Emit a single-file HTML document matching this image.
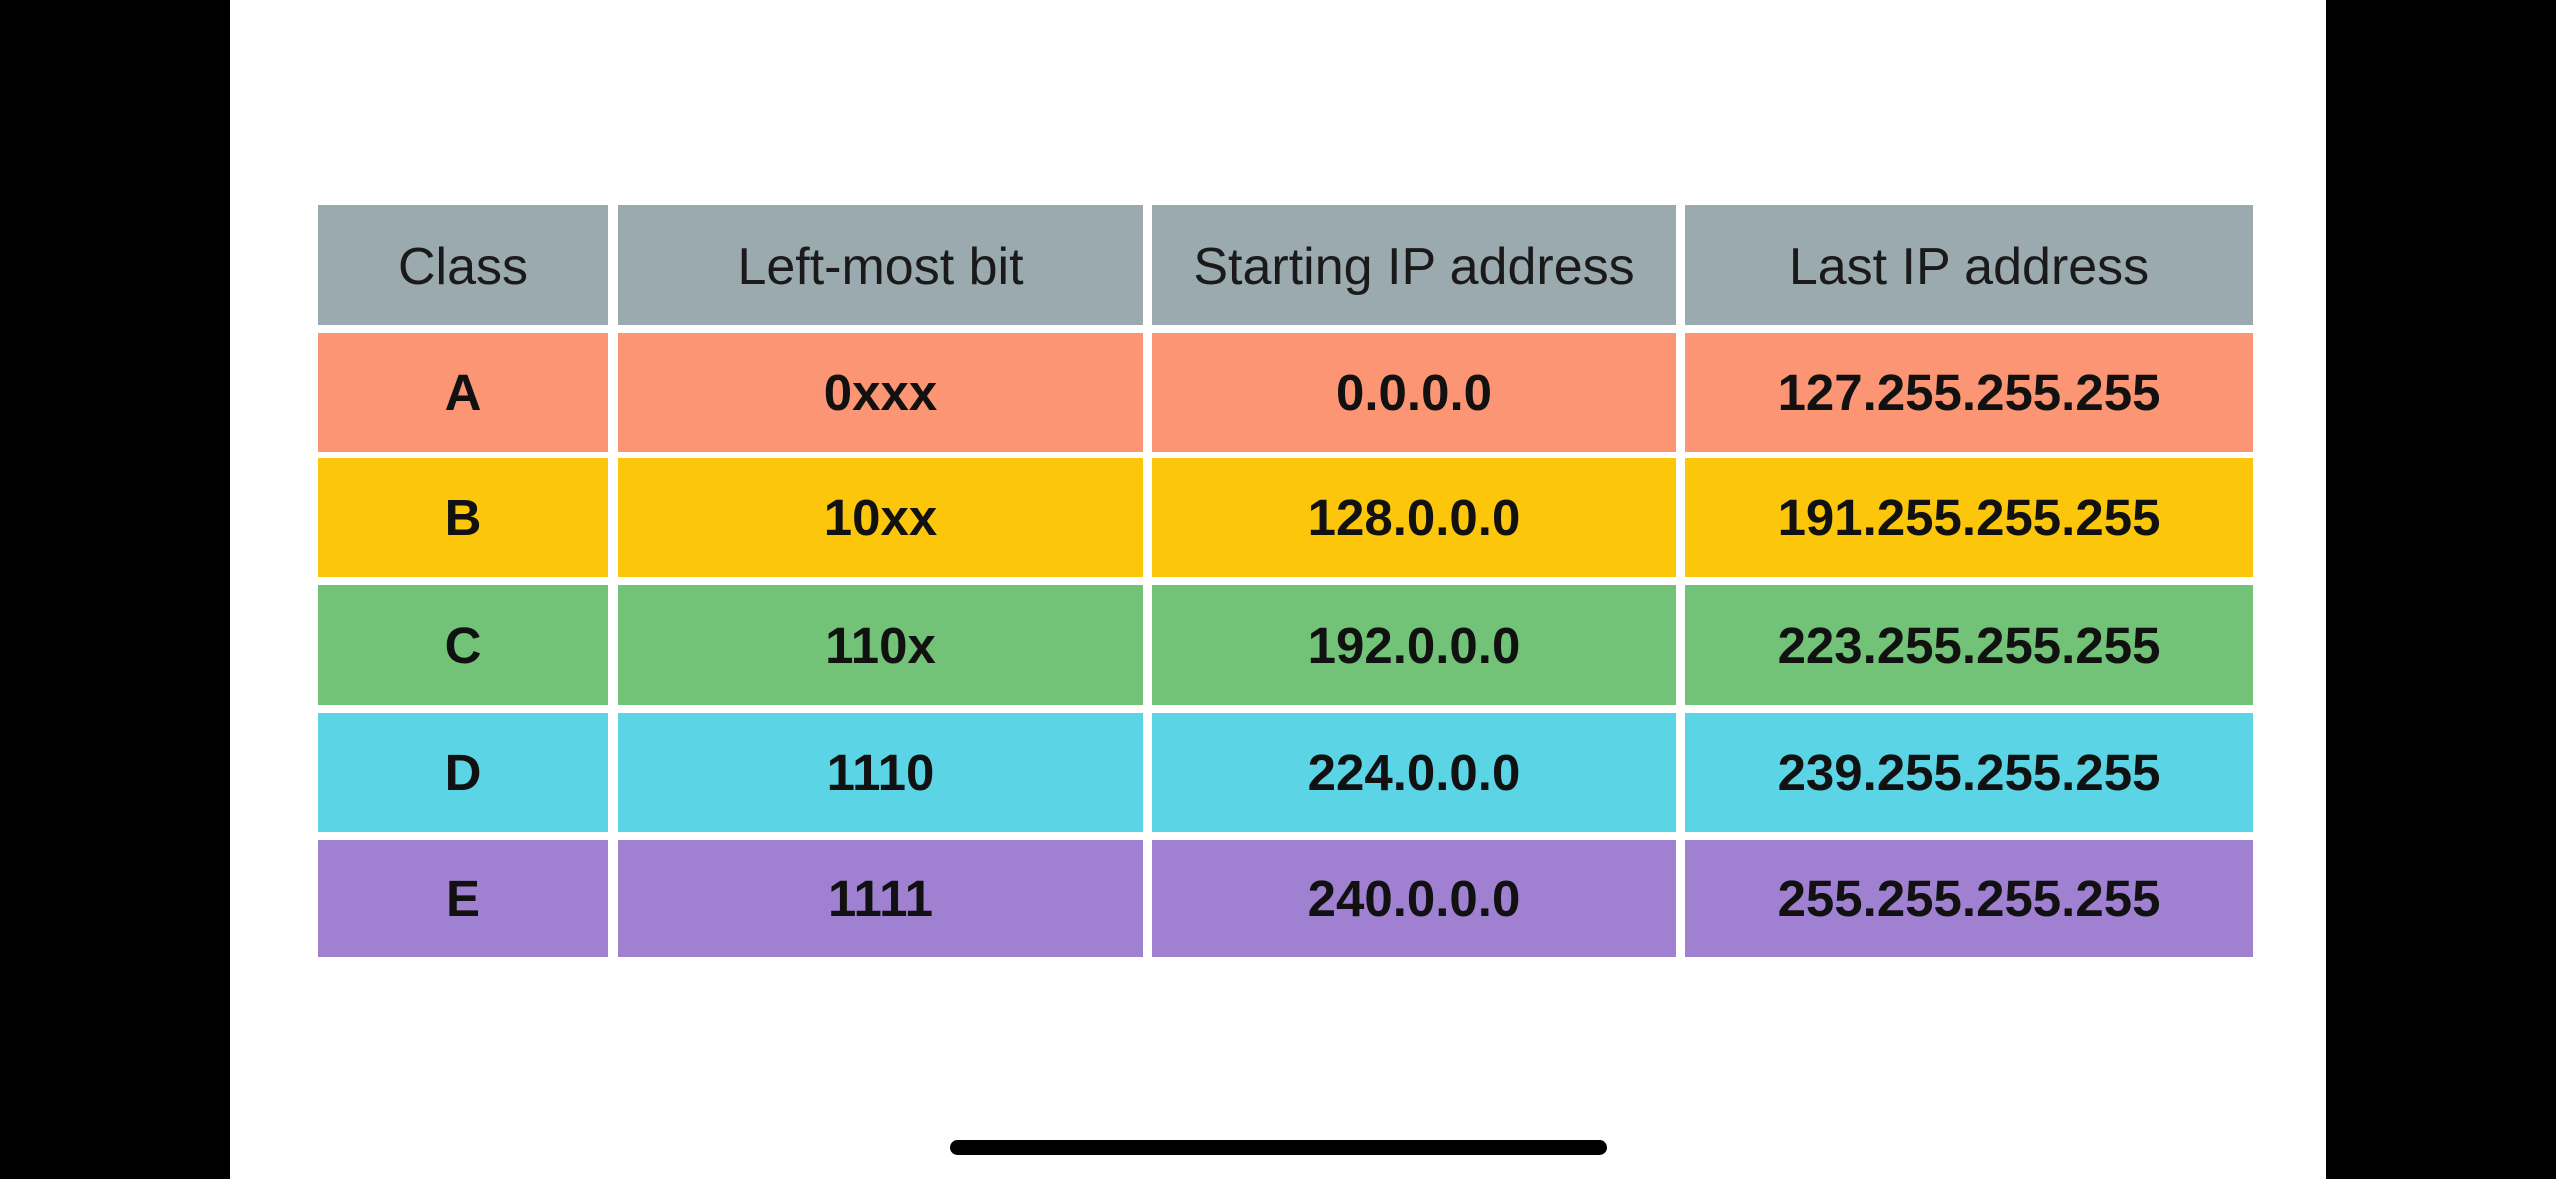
<!DOCTYPE html>
<html><head><meta charset="utf-8"><style>
html,body{margin:0;padding:0;width:2556px;height:1179px;overflow:hidden;background:#000;}
.page{position:absolute;left:230px;top:0;width:2096px;height:1179px;background:#fff;}
.c{position:absolute;display:flex;align-items:center;justify-content:center;font-family:"Liberation Sans",sans-serif;color:#111;font-size:51px;font-weight:bold;}
.h{background:#9aaaaf;font-weight:normal;font-size:52px;color:#1a1a1a;padding-top:4px;box-sizing:border-box;}
.bar{position:absolute;left:950px;top:1140px;width:657px;height:15px;background:#000;border-radius:8px;}
</style></head><body>
<div class="page"></div>
<div class="c h" style="left:318px;top:205px;width:290px;height:120px">Class</div>
<div class="c h" style="left:618px;top:205px;width:525px;height:120px">Left-most bit</div>
<div class="c h" style="left:1152px;top:205px;width:524px;height:120px">Starting IP address</div>
<div class="c h" style="left:1685px;top:205px;width:568px;height:120px">Last IP address</div>

<div class="c" style="background:#fc9573;left:318px;top:333px;width:290px;height:119px">A</div>
<div class="c" style="background:#fc9573;left:618px;top:333px;width:525px;height:119px">0xxx</div>
<div class="c" style="background:#fc9573;left:1152px;top:333px;width:524px;height:119px">0.0.0.0</div>
<div class="c" style="background:#fc9573;left:1685px;top:333px;width:568px;height:119px">127.255.255.255</div>

<div class="c" style="background:#fcc60b;left:318px;top:458px;width:290px;height:119px">B</div>
<div class="c" style="background:#fcc60b;left:618px;top:458px;width:525px;height:119px">10xx</div>
<div class="c" style="background:#fcc60b;left:1152px;top:458px;width:524px;height:119px">128.0.0.0</div>
<div class="c" style="background:#fcc60b;left:1685px;top:458px;width:568px;height:119px">191.255.255.255</div>

<div class="c" style="background:#72c277;left:318px;top:585px;width:290px;height:120px">C</div>
<div class="c" style="background:#72c277;left:618px;top:585px;width:525px;height:120px">110x</div>
<div class="c" style="background:#72c277;left:1152px;top:585px;width:524px;height:120px">192.0.0.0</div>
<div class="c" style="background:#72c277;left:1685px;top:585px;width:568px;height:120px">223.255.255.255</div>

<div class="c" style="background:#5bd5e5;left:318px;top:713px;width:290px;height:119px">D</div>
<div class="c" style="background:#5bd5e5;left:618px;top:713px;width:525px;height:119px">1110</div>
<div class="c" style="background:#5bd5e5;left:1152px;top:713px;width:524px;height:119px">224.0.0.0</div>
<div class="c" style="background:#5bd5e5;left:1685px;top:713px;width:568px;height:119px">239.255.255.255</div>

<div class="c" style="background:#9f80d1;left:318px;top:840px;width:290px;height:117px">E</div>
<div class="c" style="background:#9f80d1;left:618px;top:840px;width:525px;height:117px">1111</div>
<div class="c" style="background:#9f80d1;left:1152px;top:840px;width:524px;height:117px">240.0.0.0</div>
<div class="c" style="background:#9f80d1;left:1685px;top:840px;width:568px;height:117px">255.255.255.255</div>

<div class="bar"></div>
</body></html>
